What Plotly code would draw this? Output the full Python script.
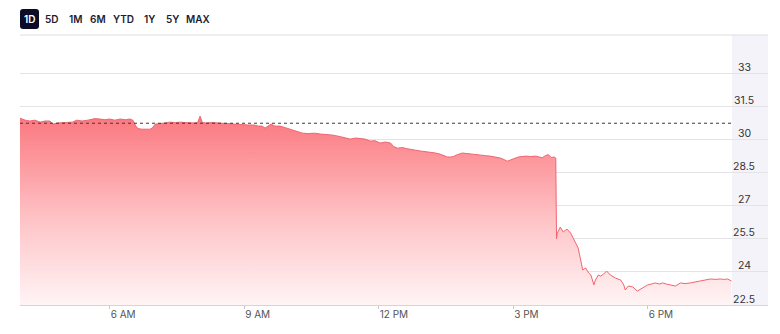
import plotly.graph_objects as go

# ---------------- data ----------------
DAY = "2024-01-01 "
times = [
    "04:00", "04:07", "04:13", "04:20", "04:27", "04:33", "04:40", "04:44", "04:50", "04:56",
    "05:03", "05:10", "05:16", "05:23", "05:31", "05:40", "05:47", "05:54", "06:00", "06:07",
    "06:14", "06:21", "06:27", "06:31", "06:35", "06:38", "06:43", "06:49", "06:54", "06:57",
    "07:01", "07:07", "07:14", "07:21", "07:28", "07:34", "07:41", "07:48", "07:54", "07:58",
    "08:01", "08:04", "08:09", "08:17", "08:25", "08:33", "08:41", "08:49", "08:57", "09:05",
    "09:13", "09:19", "09:24", "09:28", "09:32", "09:36", "09:41", "09:48", "09:55", "10:02",
    "10:07", "10:12", "10:18", "10:26", "10:34", "10:42", "10:50", "10:59", "11:09", "11:15",
    "11:22", "11:29", "11:35", "11:42", "11:49", "11:55", "12:02", "12:09", "12:16", "12:20",
    "12:25", "12:32", "12:37", "12:42", "12:49", "12:56", "13:02", "13:09", "13:16", "13:22",
    "13:27", "13:32", "13:36", "13:40", "13:44", "13:48", "13:52", "13:57", "14:03", "14:09",
    "14:16", "14:23", "14:29", "14:36", "14:43", "14:48", "14:52", "14:56", "15:02", "15:07",
    "15:12", "15:17", "15:23", "15:30", "15:35", "15:39", "15:43", "15:47", "15:51", "15:55",
    "15:57", "15:58", "15:59", "16:03", "16:07", "16:12", "16:17", "16:21", "16:23", "16:27",
    "16:30", "16:33", "16:37", "16:41", "16:44", "16:48", "16:50", "16:54", "16:57", "17:01",
    "17:05", "17:10", "17:17", "17:24", "17:28", "17:30", "17:34", "17:40", "17:46", "17:53",
    "18:00", "18:05", "18:10", "18:16", "18:20", "18:25", "18:30", "18:37", "18:44", "18:50",
    "18:57", "19:04", "19:11", "19:17", "19:24", "19:31", "19:37", "19:43", "19:47", "19:52",
]
prices = [
    30.97, 30.88, 30.84, 30.88, 30.79, 30.84, 30.84, 30.70, 30.75, 30.77,
    30.79, 30.79, 30.88, 30.84, 30.88, 30.95, 30.93, 30.90, 30.93, 30.88,
    30.93, 30.90, 30.93, 30.88, 30.61, 30.50, 30.47, 30.47, 30.47, 30.52,
    30.70, 30.72, 30.75, 30.79, 30.77, 30.79, 30.77, 30.75, 30.75, 30.79,
    31.06, 30.77, 30.75, 30.77, 30.75, 30.72, 30.70, 30.70, 30.68, 30.66,
    30.66, 30.61, 30.61, 30.52, 30.61, 30.70, 30.61, 30.61, 30.54, 30.47,
    30.43, 30.36, 30.29, 30.27, 30.29, 30.25, 30.23, 30.20, 30.13, 30.07,
    30.02, 30.07, 30.04, 30.02, 29.93, 29.95, 29.84, 29.89, 29.84, 29.68,
    29.61, 29.64, 29.59, 29.55, 29.52, 29.48, 29.46, 29.43, 29.39, 29.34,
    29.27, 29.21, 29.21, 29.23, 29.30, 29.34, 29.39, 29.37, 29.34, 29.32,
    29.30, 29.27, 29.25, 29.21, 29.16, 29.09, 29.02, 29.07, 29.14, 29.21,
    29.23, 29.25, 29.23, 29.25, 29.21, 29.18, 29.27, 29.32, 29.18, 29.21,
    29.16, 25.50, 25.75, 26.03, 25.81, 25.94, 25.76, 25.45, 25.35, 25.08,
    24.54, 24.09, 24.18, 23.95, 23.86, 23.41, 23.63, 23.86, 23.81, 23.90,
    24.04, 23.86, 23.72, 23.63, 23.41, 23.18, 23.36, 23.32, 23.13, 23.27,
    23.41, 23.45, 23.50, 23.45, 23.50, 23.45, 23.41, 23.36, 23.50, 23.47,
    23.50, 23.54, 23.59, 23.61, 23.68, 23.66, 23.68, 23.66, 23.68, 23.59,
]
prev_close = 30.74
y_ticks = [22.5, 24, 25.5, 27, 28.5, 30, 31.5, 33]
y_tick_text = ["22.5", "24", "25.5", "27", "28.5", "30", "31.5", "33"]
x_ticks = ["06:00", "09:00", "12:00", "15:00", "18:00"]
x_tick_text = ["6 AM", "9 AM", "12 PM", "3 PM", "6 PM"]
ranges = ["1D", "5D", "1M", "6M", "YTD", "1Y", "5Y", "MAX"]
active_range = "1D"

# ---------------- layout helpers ----------------
W, H = 780, 334
ML, MR, MT, MB = 20, 12, 35, 29
PW, PH = W - ML - MR, H - MT - MB


def xp(px):
    return (px - ML) / PW


def yp(py):
    return (H - MB - py) / PH


fig = go.Figure()
fig.add_trace(go.Scatter(
    x=[DAY + t for t in times], y=prices,
    mode="lines",
    line=dict(color="#ee6670", width=1),
    fill="tozeroy",
    fillgradient=dict(
        type="vertical",
        start=22.5, stop=31.0,
        colorscale=[[0, "rgba(255,244,245,1)"], [0.45, "rgb(254,196,199)"],
                    [1, "rgb(251,120,128)"]],
    ),
    hoverinfo="skip",
    showlegend=False,
))

shapes = []
# right shaded panel
shapes.append(dict(type="rect", xref="paper", yref="paper",
                   x0=xp(732), x1=xp(768), y0=0, y1=1,
                   fillcolor="#f4f3f9", line=dict(width=0), layer="below"))
# top separator
shapes.append(dict(type="line", xref="paper", yref="paper",
                   x0=0, x1=1, y0=1, y1=1,
                   line=dict(color="#dedee2", width=1)))
# previous close dashed line
shapes.append(dict(type="line", xref="paper", yref="y",
                   x0=0, x1=xp(732), y0=prev_close, y1=prev_close,
                   line=dict(color="#3a3a3a", width=1, dash="3px,3px"), layer="above"))
# active range button (rounded rect)
bx0, bx1, by0, by1, r = xp(20), xp(39), yp(29), yp(9), 3
rx, ry = r / PW, r / PH
path = (f"M {bx0+rx},{by0} L {bx1-rx},{by0} Q {bx1},{by0} {bx1},{by0+ry} "
        f"L {bx1},{by1-ry} Q {bx1},{by1} {bx1-rx},{by1} L {bx0+rx},{by1} "
        f"Q {bx0},{by1} {bx0},{by1-ry} L {bx0},{by0+ry} Q {bx0},{by0} {bx0+rx},{by0} Z")
shapes.append(dict(type="path", xref="paper", yref="paper", path=path,
                   fillcolor="#0c0c28", line=dict(width=0)))

annotations = []
# y tick labels inside the right panel
for v, t in zip(y_ticks, y_tick_text):
    annotations.append(dict(x=xp(744), y=v, xref="paper", yref="y", text=t,
                            showarrow=False, xanchor="center", yanchor="middle",
                            yshift=6, font=dict(family="Inter", size=10.5, color="#333333")))
# range buttons
btn_x = [29.5, 52, 75, 98, 123, 149, 172, 198]
for lab, bx in zip(ranges, btn_x):
    annotations.append(dict(x=xp(bx), y=yp(19), xref="paper", yref="paper", text=lab,
                            showarrow=False, xanchor="center", yanchor="middle",
                            font=dict(family="Inter", size=10,
                                      color="#ffffff" if lab == active_range else "#1c1c30",
                                      weight=600)))

fig.update_layout(
    width=W, height=H,
    margin=dict(l=ML, r=MR, t=MT, b=MB),
    paper_bgcolor="white", plot_bgcolor="white",
    shapes=shapes, annotations=annotations,
    xaxis=dict(
        type="date",
        range=[DAY + "04:00", DAY + "20:41"],
        tickvals=[DAY + t for t in x_ticks], ticktext=x_tick_text,
        ticklabelposition="outside right",
        ticks="outside", ticklen=3, tickcolor="#c8c8d0",
        showline=True, linecolor="#d4d4dc", linewidth=1,
        showgrid=False, zeroline=False,
        tickfont=dict(family="Inter", size=10, color="#555555"),
    ),
    yaxis=dict(
        range=[22.5, 34.74],
        tickvals=y_ticks, showticklabels=False,
        showgrid=True, gridcolor="#e4e4e8", gridwidth=1,
        zeroline=False, showline=False, ticks="",
    ),
)

fig.write_html("out.html")
